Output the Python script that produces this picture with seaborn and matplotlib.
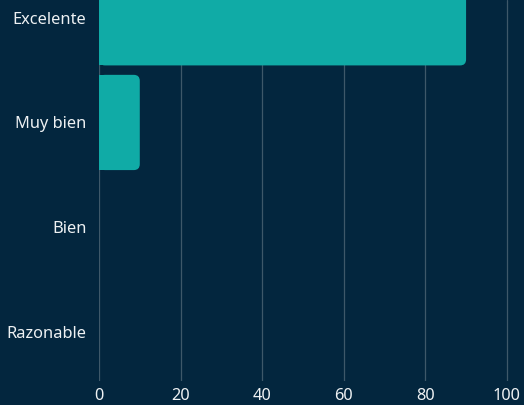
import matplotlib
matplotlib.use("Agg")
import matplotlib.pyplot as plt
from matplotlib.patches import FancyBboxPatch, Rectangle
import seaborn as sns
import pandas as pd

categories = ["Excelente", "Muy bien", "Bien", "Razonable"]
values = [90, 10, 0, 0]
x_ticks = [0, 20, 40, 60, 80, 100]

BG = "#03263E"
BAR = "#10ABA6"
GRID = "#3E5869"
TXT = "#EEF1F3"

sns.set_theme(style="dark")
plt.rcParams["font.family"] = ["Noto Sans", "DejaVu Sans"]

df = pd.DataFrame({"cat": categories, "val": values})

fig = plt.figure(figsize=(5.24, 4.05), dpi=100, facecolor=BG)
W, H = 524, 405
ax = fig.add_axes([99 / W, 1 - 381 / H, (524 - 99) / W, 381 / H])
ax.set_facecolor(BG)

sns.barplot(data=df, x="val", y="cat", orient="h", color=BAR, width=0.91,
            saturation=1, ax=ax, zorder=3)

ax.set_xlim(0, 104.2)
ax.set_ylim(3.47, -0.17)

# replace bars with rounded-right-corner bars
xpx = (524 - 99) / 104.2
ypx = 381 / (3.47 + 0.17)
r = 6 / xpx
aspect = (1 / ypx) / (1 / xpx)
for p in list(ax.patches):
    x0, y0 = p.get_x(), p.get_y()
    w, h = p.get_width(), p.get_height()
    p.remove()
    if w <= 0:
        continue
    fb = FancyBboxPatch((x0, y0), w, h,
                        boxstyle=f"round,pad=0,rounding_size={r}",
                        mutation_aspect=aspect, facecolor=BAR,
                        edgecolor="none", zorder=3)
    ax.add_patch(fb)
    ax.add_patch(Rectangle((x0, y0), min(w, 2 * r), h, facecolor=BAR,
                           edgecolor="none", zorder=3))

ax.set_xticks(x_ticks)
ax.set_xticklabels([str(t) for t in x_ticks])
ax.grid(axis="x", color=GRID, linewidth=0.9, zorder=0)
ax.grid(axis="y", visible=False)
for s in ax.spines.values():
    s.set_visible(False)
ax.tick_params(axis="both", length=0, colors=TXT, labelsize=11.8)
ax.tick_params(axis="x", pad=5)
ax.tick_params(axis="y", pad=9)
ax.set_xlabel("")
ax.set_ylabel("")

fig.savefig("out.png", dpi=100, facecolor=BG)
